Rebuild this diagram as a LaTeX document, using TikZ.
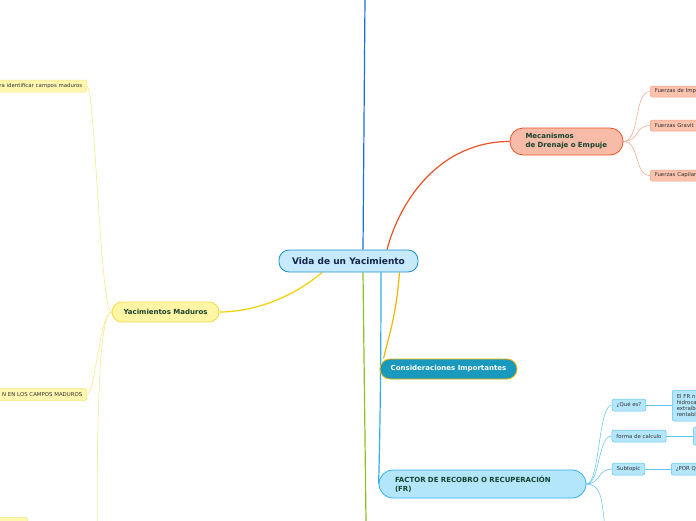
\documentclass[tikz,border=0pt]{standalone}
\usepackage{fontspec}
\setmainfont{DejaVu Sans}
\usetikzlibrary{backgrounds}

\definecolor{centralfill}{HTML}{C6E9FB}
\definecolor{centralline}{HTML}{1B8FD2}
\definecolor{centraltext}{HTML}{14254A}
\definecolor{topictext}{HTML}{15432F}
\definecolor{topline}{HTML}{1A6EE0}
\definecolor{greenline}{HTML}{8DC31F}
\definecolor{redline}{HTML}{EA5327}
\definecolor{redfill}{HTML}{F8BBA7}
\definecolor{redleaffill}{HTML}{FBC2AD}
\definecolor{redleafline}{HTML}{F5A083}
\definecolor{orangeline}{HTML}{F5B400}
\definecolor{tealfill}{HTML}{1899BD}
\definecolor{blueline}{HTML}{30B0EA}
\definecolor{bluefill}{HTML}{B4E6FB}
\definecolor{blueleafline}{HTML}{5CC3EF}
\definecolor{yellowline}{HTML}{F0D000}
\definecolor{yellowfill}{HTML}{FFF5A5}
\definecolor{yellowedge}{HTML}{F2DC45}
\definecolor{yellowleaf}{HTML}{FFF7B0}
\definecolor{yellowleafline}{HTML}{F5E67A}
\definecolor{leaftext}{HTML}{333333}

\begin{document}
\begin{tikzpicture}[
  x=1pt,y=-1pt,
  topic/.style={
    draw,
    line width=.8pt,
    rounded corners=10pt,
    minimum height=20pt,
    text=topictext,
    font=\bfseries\fontsize{7}{9}\selectfont
  },
  central/.style={
    topic,
    draw=centralline,
    fill=centralfill,
    text=centraltext,
    minimum width=139pt,
    minimum height=22pt,
    font=\bfseries\fontsize{9}{10}\selectfont
  },
  leaf/.style={
    draw,
    line width=.5pt,
    rounded corners=2pt,
    minimum height=12pt,
    inner xsep=4.5pt,
    inner ysep=1pt,
    text=leaftext,
    font=\fontsize{5.4}{5.8}\selectfont
  },
  branch/.style={line width=1.2pt},
  twig/.style={line width=.5pt}
]
  \useasboundingbox (0,0) rectangle (696,520);
  \clip (0,0) rectangle (696,520);

  % Central idea and the four main topics.
  \node[central] (vida) at (348.5,261) {Vida de un Yacimiento};
  \node[topic, draw=redline, fill=redfill, rounded corners=13pt,
    minimum height=27pt, text width=82pt, align=left, inner xsep=15.5pt]
    (drenaje) at (566.5,141.5) {Mecanismos\\de Drenaje o Empuje};
  \node[topic, draw=orangeline, fill=tealfill, text=white,
    minimum width=137pt] (consideraciones) at (448.5,369)
    {Consideraciones Importantes};
  \node[topic, draw=blueline, fill=bluefill, rounded corners=14pt,
    minimum height=28pt, text width=175pt, align=left, inner xsep=16pt]
    (factor) at (482.5,484) {FACTOR DE RECOBRO O RECUPERACIÓN\\(FR)};
  \node[topic, draw=yellowedge, fill=yellowfill,
    minimum width=107pt] (maduros) at (165.5,312) {Yacimientos Maduros};

  % Leaves of the drive mechanisms, cut by the right edge.
  \foreach \name/\y/\txt in {impulsion/91.5/Fuerzas de Imp,
      gravitacion/125.5/Fuerzas Gravit, capilares/175.5/Fuerzas Capilar}
    \node[leaf, draw=redleafline, fill=redleaffill, anchor=west,
      text width=60pt, minimum height=11pt] (\name) at (650,\y) {\txt};

  % Leaves of the recovery factor.
  \node[leaf, draw=blueleafline, fill=bluefill] (quees) at (629,405) {¿Qué es?};
  \node[leaf, draw=blueleafline, fill=bluefill] (calculo) at (639,436)
    {forma de calculo};
  \node[leaf, draw=blueleafline, fill=bluefill] (subtopic) at (628.5,469)
    {Subtopic};
  \node[leaf, draw=blueleafline, fill=bluefill, anchor=west, text width=40pt,
    minimum height=31pt, align=left] (definicion) at (672,405.5)
    {El FR n\\hidroca\\extraíb\\rentabl};
  \node[leaf, draw=blueleafline, fill=bluefill, anchor=west,
    minimum width=30pt, minimum height=18pt] (formula) at (693,436) {};
  \node[leaf, draw=blueleafline, fill=bluefill, anchor=west, text width=40pt]
    (porque) at (671,469) {¿POR Q};
  \coordinate (factordown) at (605,530);

  % Leaves of the mature fields, cut by the left edge.
  \node[leaf, draw=yellowleafline, fill=yellowleaf, anchor=east,
    text width=100pt, align=right] (identificar) at (87,86)
    {ra identificar campos maduros};
  \node[leaf, draw=yellowleafline, fill=yellowleaf, anchor=east,
    text width=100pt, align=right] (campos) at (87,394.5)
    {N EN LOS CAMPOS MADUROS};
  \node[leaf, draw=yellowleafline, fill=yellowleaf, anchor=north east,
    minimum width=60pt, minimum height=26pt] (abajo) at (28,517) {};

  \coordinate (top) at (365,-2);
  \coordinate (bottom) at (366,522);

  \begin{scope}[on background layer]
    % Main branches.
    \draw[branch, topline] ([xshift=14.5pt]vida.north) -- (top);
    \draw[branch, greenline] ([xshift=14.5pt]vida.south) -- (bottom);
    \draw[branch, redline] ([xshift=38.5pt]vida.north)
      .. controls (400,200) and (440,141.5) .. (drenaje.west);
    \draw[branch, orangeline] ([xshift=51pt]vida.south)
      .. controls (396,320) and (386,345) .. ([xshift=4pt]consideraciones.north west);
    \draw[branch, blueline] ([xshift=32.5pt]vida.south)
      .. controls (381,400) and (379,470) .. (factor.west);
    \draw[branch, yellowline] ([xshift=-26.5pt]vida.south)
      .. controls (290,300) and (250,312) .. (maduros.east);

    % Sub branches.
    \foreach \leaf in {impulsion, gravitacion, capilares}
      \draw[twig, redleafline] (drenaje.east)
        .. controls (640,141.5) and ([xshift=-16pt]\leaf.west) .. (\leaf.west);
    \foreach \leaf in {quees, calculo, subtopic}
      \draw[twig, blueleafline] (factor.east)
        .. controls (600,484) and ([xshift=-14pt]\leaf.west) .. (\leaf.west);
    \draw[twig, blueleafline] (factor.east)
      .. controls (600,484) and (602,495) .. (factordown);
    \draw[twig, blueleafline] (quees.east) -- (definicion.west |- quees.east);
    \draw[twig, blueleafline] (calculo.east) -- (formula.west);
    \draw[twig, blueleafline] (subtopic.east) -- (porque.west);
    \foreach \leaf in {identificar, campos}
      \draw[twig, yellowleafline] (maduros.west)
        .. controls (100,312) and ([xshift=8pt]\leaf.east) .. (\leaf.east);
    \draw[twig, yellowleafline] (maduros.west)
      .. controls (100,312) and (97,400) .. (97,528) |- (abajo.east);
  \end{scope}
\end{tikzpicture}
\end{document}
